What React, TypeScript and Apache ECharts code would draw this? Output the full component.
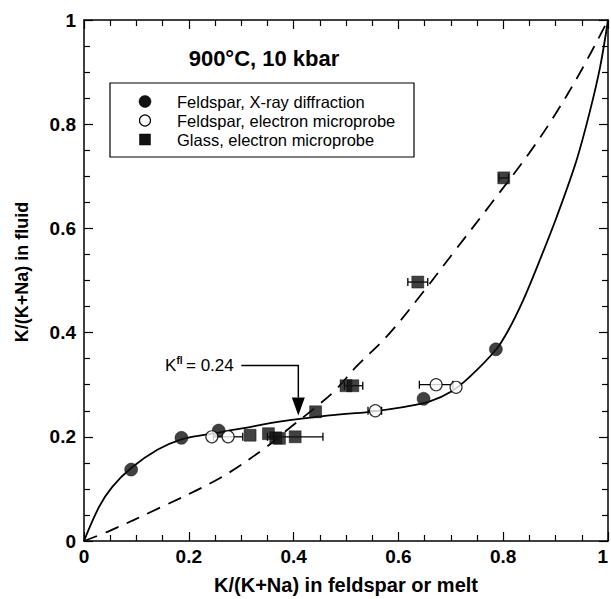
import React, { useEffect, useRef } from "react";
import * as echarts from "echarts";

const xrdData: number[][] = [
  [0.09, 0.137], [0.186, 0.198], [0.257, 0.212], [0.648, 0.273], [0.786, 0.368],
];
const empData: number[][] = [
  [0.244, 0.2], [0.275, 0.2], [0.556, 0.25], [0.672, 0.3], [0.71, 0.295],
];
const glassData: number[][] = [
  [0.317, 0.203], [0.352, 0.206], [0.366, 0.198], [0.373, 0.197], [0.403, 0.2],
  [0.442, 0.248], [0.5, 0.298], [0.513, 0.298], [0.637, 0.497], [0.801, 0.697],
];
// [x, y, xLow, xHigh]
const errorBars: number[][] = [
  [0.275, 0.2, 0.247, 0.303], [0.403, 0.2, 0.35, 0.456], [0.513, 0.298, 0.497, 0.532],
  [0.556, 0.25, 0.542, 0.568], [0.672, 0.3, 0.64, 0.704], [0.637, 0.497, 0.618, 0.656],
  [0.801, 0.697, 0.792, 0.81],
];
const solidCurve: number[][] = [
  [0, 0], [0.029, 0.066], [0.054, 0.104], [0.09, 0.14], [0.14, 0.175], [0.186, 0.195],
  [0.232, 0.204], [0.296, 0.215], [0.373, 0.229], [0.468, 0.241], [0.545, 0.248],
  [0.609, 0.257], [0.66, 0.268], [0.701, 0.287], [0.736, 0.315], [0.786, 0.367],
  [0.81, 0.405], [0.838, 0.462], [0.867, 0.532], [0.902, 0.622], [0.94, 0.731],
  [0.966, 0.827], [0.985, 0.91], [1, 1],
];
const dashedCurve: number[][] = [
  [0, 0], [0.05, 0.02], [0.143, 0.063], [0.258, 0.12], [0.345, 0.178], [0.39, 0.215],
  [0.44, 0.255], [0.48, 0.29], [0.52, 0.335], [0.58, 0.395], [0.645, 0.475],
  [0.71, 0.56], [0.775, 0.645], [0.85, 0.745], [0.9, 0.82], [0.95, 0.905], [1, 1],
];
const legendLabels = [
  "Feldspar, X-ray diffraction",
  "Feldspar, electron microprobe",
  "Glass, electron microprobe",
];
const titleText = "900°C, 10 kbar";
const kflPoint = [0.409, 0.241];
const kflValue = "= 0.24";

const FONT = "'Liberation Sans', Arial, Helvetica, sans-serif";

export default function App() {
  const ref = useRef<HTMLDivElement>(null);
  useEffect(() => {
    if (!ref.current) return;
    const chart = echarts.init(ref.current, null, { renderer: "svg" });
    const axisCommon = {
      type: "value" as const,
      min: 0,
      max: 1,
      interval: 0.2,
      axisLine: { show: true, onZero: false, lineStyle: { color: "#000", width: 1.5 } },
      axisTick: { show: true, inside: true, length: 9, lineStyle: { color: "#000", width: 1.2 } },
      minorTick: { show: true, splitNumber: 4, length: 6, lineStyle: { color: "#000", width: 1.2 } },
      splitLine: { show: false },
      minorSplitLine: { show: false },
    };
    const labelStyle = {
      color: "#000",
      fontWeight: "bold" as const,
      fontSize: 19,
      fontFamily: FONT,
      formatter: (v: number) => (v === 0 ? "0" : v === 1 ? "1" : v.toFixed(1)),
    };
    chart.setOption({
      animation: false,
      backgroundColor: "#fff",
      grid: { left: 84, right: 3, top: 20, bottom: 58, outerBoundsMode: "none" },
      xAxis: [
        {
          ...axisCommon,
          position: "bottom",
          axisLabel: { ...labelStyle, margin: 6, alignMaxLabel: "right" },
          name: "K/(K+Na) in feldspar or melt",
          nameLocation: "middle",
          nameGap: 34,
          nameTextStyle: { color: "#000", fontWeight: "bold", fontSize: 20, fontFamily: FONT },
        },
        { ...axisCommon, position: "top", axisLabel: { show: false } },
      ],
      yAxis: [
        {
          ...axisCommon,
          position: "left",
          axisLabel: { ...labelStyle, margin: 8 },
          name: "K/(K+Na) in fluid",
          nameLocation: "middle",
          nameGap: 53,
          nameTextStyle: {
            color: "#000",
            fontWeight: "bold",
            fontSize: 18,
            fontFamily: FONT,
            padding: [0, 0, 0, 17],
          },
        },
        { ...axisCommon, position: "right", axisLabel: { show: false } },
      ],
      series: [
        {
          type: "line",
          data: solidCurve,
          smooth: 0.35,
          showSymbol: false,
          lineStyle: { color: "#000", width: 1.8 },
          silent: true,
          z: 1,
        },
        {
          type: "line",
          data: dashedCurve,
          smooth: 0.35,
          showSymbol: false,
          lineStyle: { color: "#000", width: 1.8, type: [14, 9] },
          silent: true,
          z: 1,
        },
        {
          type: "custom",
          data: errorBars,
          z: 2,
          renderItem: (params: any, api: any) => {
            const y = api.value(1);
            const lo = api.coord([api.value(2), y]);
            const hi = api.coord([api.value(3), y]);
            const st = { stroke: "#000", lineWidth: 1.3 };
            return {
              type: "group",
              children: [
                { type: "line", shape: { x1: lo[0], y1: lo[1], x2: hi[0], y2: hi[1] }, style: st },
                { type: "line", shape: { x1: lo[0], y1: lo[1] - 4, x2: lo[0], y2: lo[1] + 4 }, style: st },
                { type: "line", shape: { x1: hi[0], y1: hi[1] - 4, x2: hi[0], y2: hi[1] + 4 }, style: st },
              ],
            };
          },
        },
        {
          name: legendLabels[0],
          type: "scatter",
          data: xrdData,
          symbol: "circle",
          symbolSize: 13,
          itemStyle: { color: "#111", borderColor: "#000", borderWidth: 0.5 },
          z: 3,
        },
        {
          name: legendLabels[1],
          type: "scatter",
          data: empData,
          symbol: "circle",
          symbolSize: 12,
          itemStyle: { color: "#fff", borderColor: "#000", borderWidth: 1.2 },
          z: 3,
        },
        {
          name: legendLabels[2],
          type: "scatter",
          data: glassData,
          symbol: "rect",
          symbolSize: 12,
          itemStyle: { color: "#111", borderColor: "#000", borderWidth: 0.5 },
          z: 4,
        },
      ],
    });

    const tip = chart.convertToPixel({ xAxisIndex: 0, yAxisIndex: 0 }, kflPoint) as number[];
    const tx = tip[0];
    const ty = tip[1];
    const lineY = ty - 50;
    const textRight = tx - 57;
    const rowY = [101.5, 120.5, 139.5];
    const markerX = 145;
    const textX = 177;
    chart.setOption({
      graphic: [
        {
          type: "text",
          style: {
            x: 264,
            y: 58,
            text: titleText,
            font: `bold 22px ${FONT}`,
            fill: "#000",
            align: "center",
            verticalAlign: "middle",
          },
        },
        {
          type: "rect",
          shape: { x: 110, y: 83, width: 304, height: 74 },
          style: { fill: "#fff", stroke: "#000", lineWidth: 1.2 },
          z: 10,
        },
        {
          type: "circle",
          shape: { cx: markerX, cy: rowY[0], r: 6 },
          style: { fill: "#111", stroke: "#000", lineWidth: 0.5 },
          z: 11,
        },
        {
          type: "circle",
          shape: { cx: markerX, cy: rowY[1], r: 5.5 },
          style: { fill: "#fff", stroke: "#000", lineWidth: 1.2 },
          z: 11,
        },
        {
          type: "rect",
          shape: { x: markerX - 5.5, y: rowY[2] - 5.5, width: 11, height: 11 },
          style: { fill: "#111", stroke: "#000", lineWidth: 0.5 },
          z: 11,
        },
        ...legendLabels.map((t, i) => ({
          type: "text",
          z: 11,
          style: {
            x: textX,
            y: rowY[i],
            text: t,
            font: `16.5px ${FONT}`,
            fill: "#000",
            verticalAlign: "middle",
          },
        })),
        {
          type: "text",
          style: { x: 165, y: lineY, text: "K", font: `17px ${FONT}`, fill: "#000", verticalAlign: "middle" },
        },
        {
          type: "text",
          style: { x: 176.5, y: lineY - 5, text: "fl", font: `bold 10px ${FONT}`, fill: "#000", verticalAlign: "middle" },
        },
        {
          type: "text",
          style: { x: 186, y: lineY, text: kflValue, font: `17px ${FONT}`, fill: "#000", verticalAlign: "middle" },
        },
        {
          type: "polyline",
          shape: { points: [[textRight, lineY], [tx, lineY], [tx, ty - 18]] },
          style: { stroke: "#000", lineWidth: 1.5, fill: "none" },
        },
        {
          type: "polygon",
          shape: { points: [[tx - 6.5, ty - 18], [tx + 6.5, ty - 18], [tx, ty]] },
          style: { fill: "#000" },
        },
      ],
    });
    return () => chart.dispose();
  }, []);
  return <div ref={ref} style={{ width: 611, height: 599, position: "absolute", left: 0, top: 0 }} />;
}
